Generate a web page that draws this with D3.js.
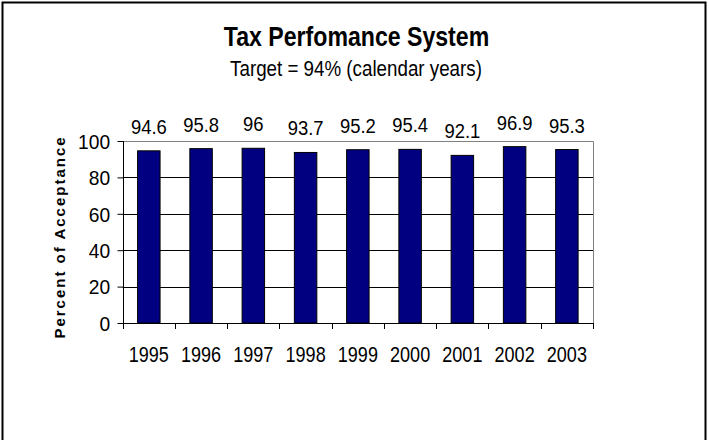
<!DOCTYPE html>
<html>
<head>
<meta charset="utf-8">
<script src="https://cdn.jsdelivr.net/npm/d3@7"></script>
<style>
  html, body { margin: 0; padding: 0; background: #fff; }
  svg { display: block; }
  text { font-family: "Liberation Sans", Arial, sans-serif; fill: #000; }
</style>
</head>
<body>
<svg id="chart" width="709" height="440"></svg>
<script>
// Tax Performance System: percent of acceptance by calendar year
const years = ["1995", "1996", "1997", "1998", "1999", "2000", "2001", "2002", "2003"];
const acceptance = [94.6, 95.8, 96, 93.7, 95.2, 95.4, 92.1, 96.9, 95.3];
const yTicks = [0, 20, 40, 60, 80, 100];
const titleText = "Tax Perfomance System";
const subtitleText = "Target = 94% (calendar years)";
const yAxisTitle = "Percent of Acceptance";

const W = 709, H = 440;
const plot = { left: 122.7, right: 593, top: 141, bottom: 323 };

const svg = d3.select("#chart");

// outer frame
svg.append("rect")
  .attr("x", 2.5).attr("y", 2.5)
  .attr("width", 703).attr("height", 460)
  .attr("fill", "#fff").attr("stroke", "#000").attr("stroke-width", 2);

const x = d3.scaleBand().domain(years).range([plot.left, plot.right]).paddingInner(0.57).paddingOuter(0.285);
const xEdges = d3.scaleLinear().domain([0, years.length]).range([plot.left, plot.right]);
const y = d3.scaleLinear().domain([0, 100]).range([plot.bottom, plot.top]);

// text helper with horizontal condensing
function label(g, txt, px, py, size, opts = {}) {
  const sx = opts.sx || 1;
  return g.append("text")
    .attr("transform", `translate(${px},${py}) scale(${sx},1)`)
    .attr("text-anchor", opts.anchor || "middle")
    .attr("font-size", size)
    .attr("font-weight", opts.bold ? "bold" : "normal")
    .text(txt);
}

// title
label(svg, titleText, 356.5, 46, 27, { bold: true, sx: 0.856 });
label(svg, subtitleText, 356, 75.5, 22, { sx: 0.853 });

// gridlines (20..80)
svg.append("g")
  .selectAll("line")
  .data(yTicks.filter(d => d > 0 && d < 100))
  .join("line")
  .attr("x1", plot.left).attr("x2", plot.right)
  .attr("y1", d => Math.round(y(d)) + 0.5).attr("y2", d => Math.round(y(d)) + 0.5)
  .attr("stroke", "#000").attr("stroke-width", 1);

// plot border (top and right, grey)
svg.append("path")
  .attr("d", `M${plot.left},${Math.round(y(100)) + 0.5}H${Math.round(plot.right) + 0.5}V${plot.bottom}`)
  .attr("fill", "none").attr("stroke", "#808080").attr("stroke-width", 1);

// bars
svg.append("g")
  .selectAll("rect")
  .data(acceptance)
  .join("rect")
  .attr("x", (d, i) => x(years[i]))
  .attr("y", d => y(d))
  .attr("width", x.bandwidth())
  .attr("height", d => y(0) - y(d))
  .attr("fill", "#000080")
  .attr("stroke", "#000")
  .attr("stroke-width", 1);

// value labels above bars
svg.append("g")
  .selectAll("text")
  .data(acceptance)
  .join("text")
  .attr("transform", (d, i) => `translate(${x(years[i]) + x.bandwidth() / 2},${y(d) - 17}) scale(0.9,1)`)
  .attr("text-anchor", "middle")
  .attr("font-size", 20.5)
  .text(d => d);

// y axis
const yAxis = d3.axisLeft(y).tickValues(yTicks).tickSize(6).tickPadding(8);
const gy = svg.append("g")
  .attr("transform", `translate(${Math.round(plot.left) + 0.5},0)`)
  .call(yAxis);
gy.select(".domain").attr("stroke", "#000").attr("d", `M-0,${plot.top}V${plot.bottom}`);
gy.selectAll(".tick line").attr("stroke", "#000");
gy.selectAll(".tick text")
  .attr("font-size", 20)
  .attr("font-family", "Liberation Sans, Arial, sans-serif")
  .attr("fill", "#000")
  .attr("dy", "0.36em")
  .attr("transform", "scale(0.96,1)");

// x axis baseline and tick marks at category edges
svg.append("line")
  .attr("x1", plot.left).attr("x2", plot.right + 0.5)
  .attr("y1", Math.round(y(0)) + 0.5).attr("y2", Math.round(y(0)) + 0.5)
  .attr("stroke", "#000");
svg.append("g")
  .selectAll("line")
  .data(d3.range(years.length + 1))
  .join("line")
  .attr("x1", d => Math.round(xEdges(d)) + 0.5).attr("x2", d => Math.round(xEdges(d)) + 0.5)
  .attr("y1", plot.bottom).attr("y2", plot.bottom + 6)
  .attr("stroke", "#000");

// year labels
svg.append("g")
  .selectAll("text")
  .data(years)
  .join("text")
  .attr("transform", d => `translate(${x(d) + x.bandwidth() / 2},361.5) scale(0.84,1)`)
  .attr("text-anchor", "middle")
  .attr("font-size", 21.5)
  .text(d => d);

// y axis title
svg.append("text")
  .attr("transform", `translate(65,${(plot.top + plot.bottom) / 2 + 5}) rotate(-90)`)
  .attr("text-anchor", "middle")
  .attr("font-size", 15)
  .attr("font-weight", "bold")
  .attr("letter-spacing", 2)
  .text(yAxisTitle);
</script>
</body>
</html>
